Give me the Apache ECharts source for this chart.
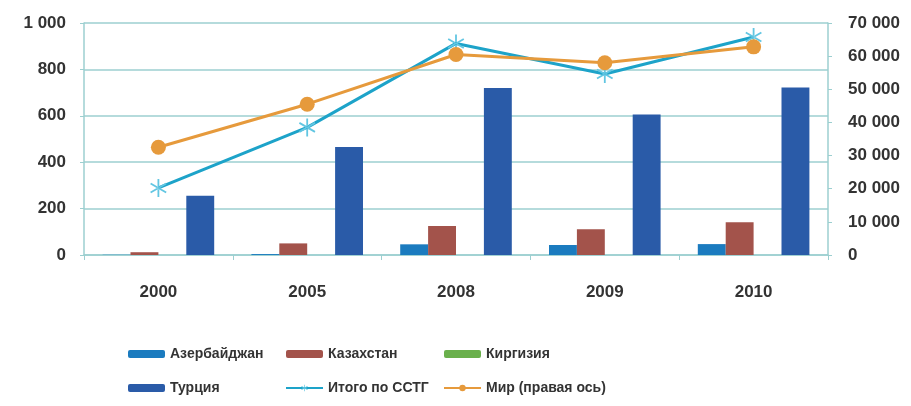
<!DOCTYPE html>
<html><head><meta charset="utf-8">
<script src="https://cdn.jsdelivr.net/npm/echarts@6/dist/echarts.min.js"></script>
<style>html,body{margin:0;padding:0;background:#fff}#c{width:911px;height:406px}</style>
</head><body><div id="c"></div>
<script>
const categories = ['2000','2005','2008','2009','2010'];
const azerbaijan = [1, 4, 46, 43, 47];
const kazakhstan = [12, 50, 125, 111, 141];
const kyrgyzstan = [0, 0, 0, 0, 0];
const turkey = [255, 465, 720, 606, 722];
const totalCIS = [289, 550, 912, 780, 940];
const world = [32500, 45500, 60500, 58000, 62800];
const leftTicks = {min: 0, max: 1000, interval: 200};
const rightTicks = {min: 0, max: 70000, interval: 10000};

const fmt = v => String(v).replace(/\B(?=(\d{3})+(?!\d))/g, ' ');
const teal = '#9ccfd0';
const font = {fontFamily: 'Liberation Sans', fontWeight: 'bold', fontSize: 17, color: '#333'};
const star = 'path://M-1,-10L1,-10L1,10L-1,10Z M8.16,5.866L9.16,4.134L-8.16,-5.866L-9.16,-4.134Z M-9.16,4.134L-8.16,5.866L9.16,-4.134L8.16,-5.866Z';
const legendText = {fontFamily: 'Liberation Sans', fontWeight: 'bold', fontSize: 14, color: '#333'};
const legendBase = {orient: 'vertical', top: 347, itemWidth: 37, itemHeight: 8, itemGap: 20, textStyle: legendText, padding: 0};

const chart = echarts.init(document.getElementById('c'));
chart.setOption({
  animation: false,
  backgroundColor: '#fff',
  grid: {left: 84, right: 83, top: 23, bottom: 151},
  legend: [
    Object.assign({left: 128, data: ['Азербайджан', 'Турция']}, legendBase),
    Object.assign({left: 285, data: ['Казахстан', 'Итого по ССТГ']}, legendBase),
    Object.assign({left: 443, data: ['Киргизия', 'Мир (правая ось)']}, legendBase)
  ],
  xAxis: {
    type: 'category', data: categories,
    axisLine: {lineStyle: {color: teal, width: 1.5}},
    axisTick: {show: true, length: 5, lineStyle: {color: teal}},
    axisLabel: Object.assign({margin: 29}, font)
  },
  yAxis: [
    {type: 'value', min: leftTicks.min, max: leftTicks.max, interval: leftTicks.interval,
     axisLine: {show: true, lineStyle: {color: teal, width: 1.5}},
     axisTick: {show: true, length: 4, lineStyle: {color: teal}},
     splitLine: {lineStyle: {color: teal, width: 1.5}},
     axisLabel: Object.assign({margin: 18, formatter: fmt}, font)},
    {type: 'value', position: 'right', min: rightTicks.min, max: rightTicks.max, interval: rightTicks.interval,
     axisLine: {show: true, lineStyle: {color: teal, width: 1.5}},
     axisTick: {show: true, length: 4, lineStyle: {color: teal}},
     splitLine: {show: false},
     axisLabel: Object.assign({margin: 20, formatter: fmt}, font)}
  ],
  series: [
    {name: 'Азербайджан', type: 'bar', data: azerbaijan, barGap: '0%', barCategoryGap: '25%', itemStyle: {color: '#1b7bbf'}},
    {name: 'Казахстан', type: 'bar', data: kazakhstan, itemStyle: {color: '#a3534b'}},
    {name: 'Киргизия', type: 'bar', data: kyrgyzstan, itemStyle: {color: '#6ab04c'}},
    {name: 'Турция', type: 'bar', data: turkey, itemStyle: {color: '#2a5ba8'}},
    {name: 'Итого по ССТГ', type: 'line', data: totalCIS, symbol: star, symbolSize: 18, symbolKeepAspect: true,
     lineStyle: {color: '#1da3c9', width: 3}, itemStyle: {color: '#62c6e2'}},
    {name: 'Мир (правая ось)', type: 'line', yAxisIndex: 1, data: world, symbol: 'circle', symbolSize: 15,
     lineStyle: {color: '#e69a3c', width: 3}, itemStyle: {color: '#e69a3c'}}
  ]
});
</script></body></html>
